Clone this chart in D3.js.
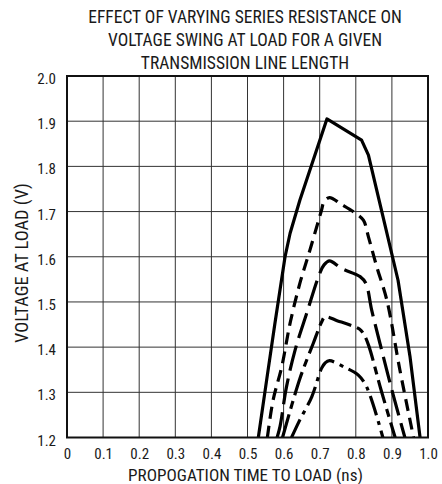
<!DOCTYPE html>
<html>
<head>
<meta charset="utf-8">
<script src="https://cdn.jsdelivr.net/npm/d3@7"></script>
<style>
  html, body { margin: 0; padding: 0; background: #fff; }
  svg { display: block; }
  text { font-family: "Roboto Condensed", "Liberation Sans", Arial, sans-serif; fill: #1a1a1a; }
</style>
</head>
<body>
<svg id="chart" width="442" height="484"></svg>
<script>
// Chart text
const titleLines = [
  "EFFECT OF VARYING SERIES RESISTANCE ON",
  "VOLTAGE SWING AT LOAD FOR A GIVEN",
  "TRANSMISSION LINE LENGTH"
];
const xTitle = "PROPOGATION TIME TO LOAD (ns)";
const yTitle = "VOLTAGE AT LOAD (V)";

// Axis ticks
const xTickValues = [0, 0.1, 0.2, 0.3, 0.4, 0.5, 0.6, 0.7, 0.8, 0.9, 1.0];
const xTickLabels = ["0", "0.1", "0.2", "0.3", "0.4", "0.5", "0.6", "0.7", "0.8", "0.9", "1.0"];
const yTickValues = [1.2, 1.3, 1.4, 1.5, 1.6, 1.7, 1.8, 1.9, 2.0];
const yTickLabels = ["1.2", "1.3", "1.4", "1.5", "1.6", "1.7", "1.8", "1.9", "2.0"];

// Load voltage vs. time, one curve per series resistance
const solidT = [0.530, 0.553, 0.576, 0.604, 0.618, 0.645, 0.720, 0.816, 0.835, 0.875, 0.917, 0.950, 0.978];
const solidV = [1.200, 1.327, 1.453, 1.600, 1.652, 1.725, 1.905, 1.858, 1.825, 1.690, 1.548, 1.380, 1.200];

const shortDashT = [0.555, 0.571, 0.595, 0.618, 0.645, 0.673, 0.705, 0.712, 0.727, 0.760, 0.798, 0.821, 0.835, 0.858, 0.886, 0.922, 0.960];
const shortDashV = [1.200, 1.283, 1.357, 1.453, 1.541, 1.615, 1.703, 1.722, 1.731, 1.716, 1.697, 1.681, 1.644, 1.578, 1.504, 1.350, 1.200];

const longDashT = [0.582, 0.590, 0.608, 0.632, 0.664, 0.700, 0.712, 0.727, 0.761, 0.812, 0.828, 0.844, 0.867, 0.900, 0.936];
const longDashV = [1.200, 1.224, 1.312, 1.394, 1.475, 1.563, 1.582, 1.591, 1.574, 1.556, 1.541, 1.482, 1.408, 1.305, 1.200];

const longShortT = [0.597, 0.645, 0.682, 0.705, 0.715, 0.750, 0.784, 0.810, 0.821, 0.835, 0.870, 0.909];
const longShortV = [1.200, 1.330, 1.408, 1.455, 1.467, 1.458, 1.449, 1.440, 1.430, 1.405, 1.305, 1.200];

const dashDotT = [0.622, 0.645, 0.678, 0.705, 0.715, 0.727, 0.770, 0.807, 0.830, 0.875];
const dashDotV = [1.200, 1.239, 1.290, 1.353, 1.365, 1.370, 1.355, 1.338, 1.312, 1.200];

const curveStyles = [
  { t: solidT,     v: solidV,     dash: null,       smooth: false },
  { t: shortDashT, v: shortDashV, dash: "12,7",     smooth: true },
  { t: longDashT,  v: longDashV,  dash: "26,8",     smooth: true },
  { t: longShortT, v: longShortV, dash: "24,6,8,6", smooth: true },
  { t: dashDotT,   v: dashDotV,   dash: "20,6,4,6", smooth: true }
];

const svg = d3.select("#chart");
const margin = { left: 67, right: 14, top: 76, bottom: 46.5 };
const width = 442 - margin.left - margin.right;
const height = 484 - margin.top - margin.bottom;

const x = d3.scaleLinear().domain([0, 1]).range([margin.left, margin.left + width]);
const y = d3.scaleLinear().domain([1.2, 2.0]).range([margin.top + height, margin.top]);

// Centered text whose font size is set so the line spans the given width
function fittedText(str, px, py, span, rotate) {
  const t = svg.append("text")
    .attr("transform", `translate(${px},${py})${rotate ? ` rotate(${rotate})` : ""}`)
    .attr("text-anchor", "middle")
    .attr("font-size", 16)
    .text(str);
  const len = t.node().getComputedTextLength();
  t.attr("font-size", 16 * span / len);
  return t;
}

// Title: first line sets the size shared by all three lines
const first = fittedText(titleLines[0], 245, 22.5, 314);
const titleSize = +first.attr("font-size");
titleLines.slice(1).forEach((line, i) => {
  svg.append("text")
    .attr("x", 245).attr("y", 22.5 + (i + 1) * 23)
    .attr("text-anchor", "middle")
    .attr("font-size", titleSize)
    .text(line);
});

// Grid
const grid = svg.append("g");
grid.selectAll("line.vx")
  .data(xTickValues.slice(1, -1))
  .join("line")
  .attr("x1", d => x(d)).attr("x2", d => x(d))
  .attr("y1", y(2.0)).attr("y2", y(1.2))
  .attr("stroke", "#333").attr("stroke-width", 1);
grid.selectAll("line.hy")
  .data(yTickValues.slice(1, -1))
  .join("line")
  .attr("x1", x(0)).attr("x2", x(1))
  .attr("y1", d => y(d)).attr("y2", d => y(d))
  .attr("stroke", "#333").attr("stroke-width", 1);

// Curves, clipped to the plot area
svg.append("clipPath").attr("id", "plotClip")
  .append("rect")
  .attr("x", x(0)).attr("y", y(2.0))
  .attr("width", x(1) - x(0)).attr("height", y(1.2) - y(2.0));

const curves = svg.append("g").attr("clip-path", "url(#plotClip)");
curveStyles.forEach(s => {
  const pts = s.t.map((t, i) => [t, s.v[i]]);
  const line = d3.line()
    .x(d => x(d[0]))
    .y(d => y(d[1]))
    .curve(s.smooth ? d3.curveCatmullRom.alpha(0.5) : d3.curveLinear);
  curves.append("path")
    .attr("d", line(pts))
    .attr("fill", "none")
    .attr("stroke", "#000")
    .attr("stroke-width", 3.2)
    .attr("stroke-linejoin", "round")
    .attr("stroke-dasharray", s.dash);
});

// Frame
svg.append("rect")
  .attr("x", x(0)).attr("y", y(2.0))
  .attr("width", x(1) - x(0)).attr("height", y(1.2) - y(2.0))
  .attr("fill", "none").attr("stroke", "#111").attr("stroke-width", 2);

// Axes (labels only; frame drawn above)
const xAxis = d3.axisBottom(x)
  .tickValues(xTickValues)
  .tickFormat((d, i) => xTickLabels[i])
  .tickSize(0).tickPadding(11);
const gx = svg.append("g").attr("transform", `translate(0,${y(1.2)})`).call(xAxis);
gx.select(".domain").remove();
gx.selectAll("text").attr("font-size", 15).attr("fill", "#1a1a1a")
  .style("font-family", "\"Roboto Condensed\", \"Liberation Sans\", sans-serif");

const yAxis = d3.axisLeft(y)
  .tickValues(yTickValues)
  .tickFormat((d, i) => yTickLabels[i])
  .tickSize(0).tickPadding(11);
const gy = svg.append("g").attr("transform", `translate(${x(0)},0)`).call(yAxis);
gy.select(".domain").remove();
gy.selectAll("text").attr("font-size", 15).attr("fill", "#1a1a1a").attr("dy", "0.5em")
  .style("font-family", "\"Roboto Condensed\", \"Liberation Sans\", sans-serif");

// Axis titles
fittedText(xTitle, 245.5, 481, 235);
fittedText(yTitle, 28, 263, 160, -90);
</script>
</body>
</html>
